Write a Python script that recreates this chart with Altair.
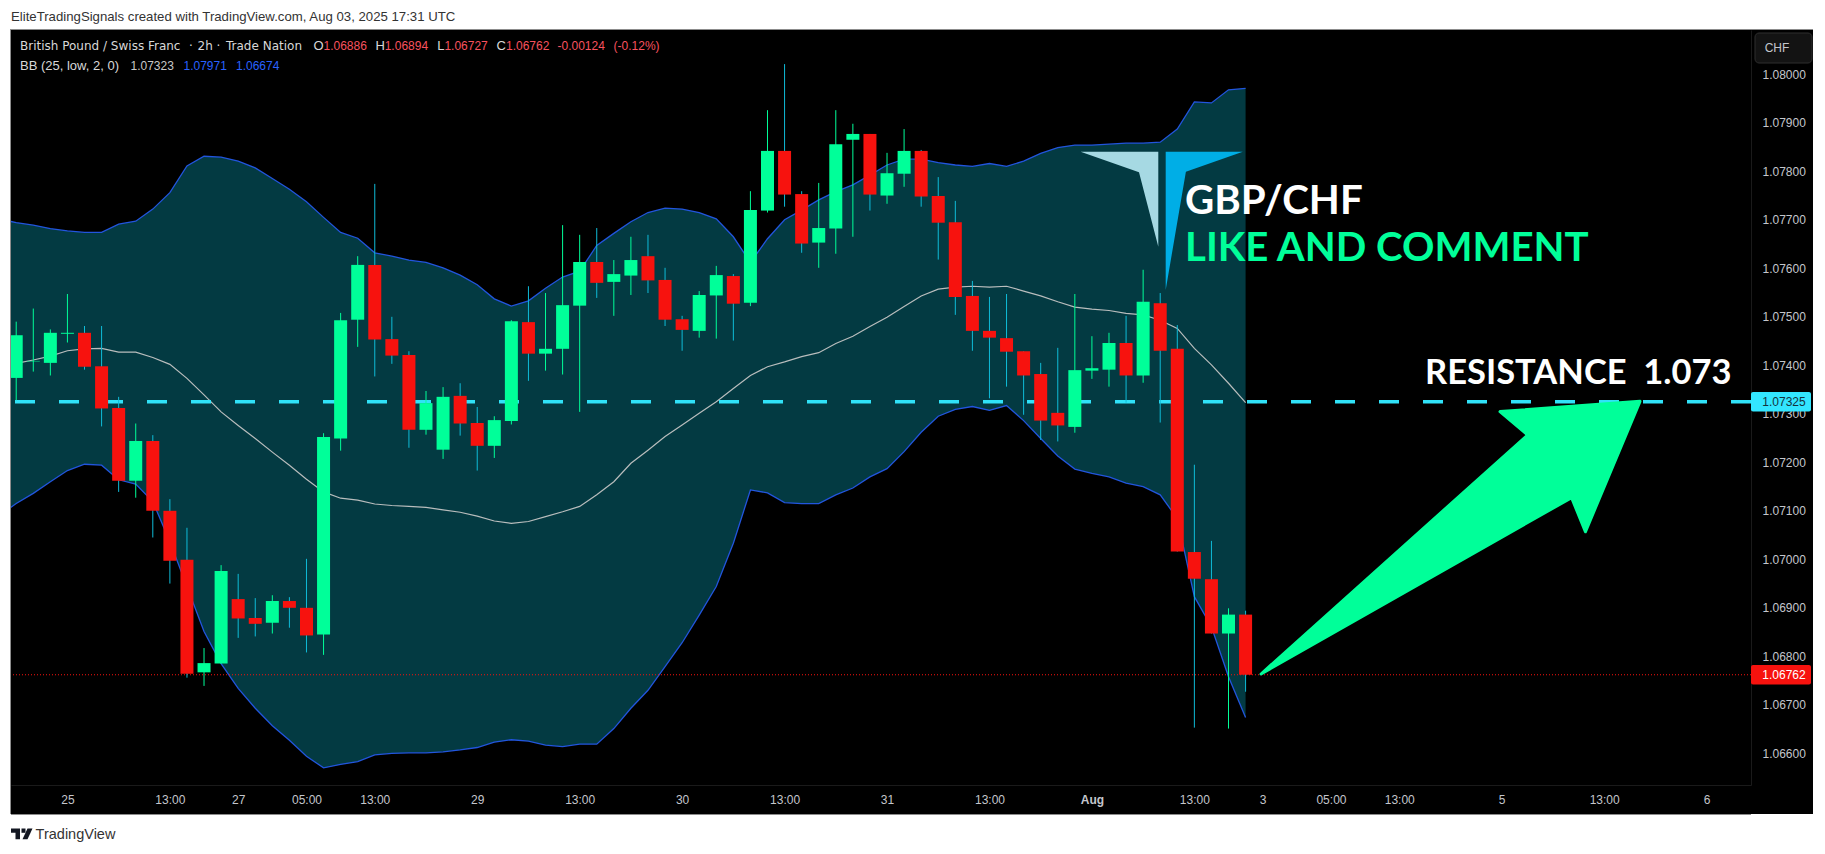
"""GBP/CHF 2h candles with Bollinger Bands, TradingView style."""

import altair as alt
import pandas as pd

OPEN = [
    1.07374, 1.07408, 1.07405, 1.07465, 1.07467, 1.07398, 1.07312, 1.07162, 1.07244, 1.07100,
    1.06999, 1.06767, 1.06785, 1.06918, 1.06879, 1.06869, 1.06914, 1.06900, 1.06845, 1.07249,
    1.07494, 1.07607, 1.07454, 1.07421, 1.07267, 1.07226, 1.07337, 1.07281, 1.07234, 1.07285,
    1.07489, 1.07424, 1.07434, 1.07523, 1.07613, 1.07572, 1.07585, 1.07625, 1.07576, 1.07495,
    1.07471, 1.07544, 1.07584, 1.07529, 1.07719, 1.07842, 1.07753, 1.07653, 1.07682, 1.07865,
    1.07877, 1.07750, 1.07795, 1.07842, 1.07749, 1.07695, 1.07543, 1.07471, 1.07456, 1.07429,
    1.07382, 1.07302, 1.07273, 1.07389, 1.07391, 1.07446, 1.07379, 1.07528, 1.07434, 1.07015,
    1.06959, 1.06847, 1.06886,
]
HIGH = [
    1.07490, 1.07517, 1.07474, 1.07547, 1.07481, 1.07481, 1.07335, 1.07280, 1.07256, 1.07124,
    1.07065, 1.06817, 1.06988, 1.06970, 1.06920, 1.06926, 1.06922, 1.07001, 1.07260, 1.07508,
    1.07625, 1.07774, 1.07500, 1.07429, 1.07347, 1.07355, 1.07363, 1.07314, 1.07295, 1.07493,
    1.07563, 1.07549, 1.07689, 1.07669, 1.07683, 1.07617, 1.07665, 1.07669, 1.07601, 1.07502,
    1.07553, 1.07605, 1.07588, 1.07759, 1.07926, 1.08021, 1.07759, 1.07776, 1.07926, 1.07898,
    1.07877, 1.07838, 1.07887, 1.07844, 1.07788, 1.07739, 1.07574, 1.07541, 1.07547, 1.07429,
    1.07405, 1.07436, 1.07547, 1.07460, 1.07467, 1.07502, 1.07597, 1.07549, 1.07483, 1.07195,
    1.07038, 1.06899, 1.06894,
]
LOW = [
    1.07328, 1.07387, 1.07379, 1.07447, 1.07391, 1.07274, 1.07139, 1.07127, 1.07045, 1.06950,
    1.06756, 1.06739, 1.06785, 1.06838, 1.06841, 1.06847, 1.06859, 1.06808, 1.06803, 1.07224,
    1.07438, 1.07377, 1.07403, 1.07230, 1.07257, 1.07207, 1.07255, 1.07183, 1.07209, 1.07278,
    1.07368, 1.07389, 1.07381, 1.07304, 1.07539, 1.07502, 1.07545, 1.07549, 1.07481, 1.07430,
    1.07457, 1.07455, 1.07451, 1.07522, 1.07715, 1.07727, 1.07632, 1.07601, 1.07630, 1.07665,
    1.07719, 1.07733, 1.07768, 1.07727, 1.07618, 1.07504, 1.07430, 1.07332, 1.07356, 1.07298,
    1.07246, 1.07243, 1.07261, 1.07372, 1.07356, 1.07323, 1.07364, 1.07282, 1.07016, 1.06653,
    1.06847, 1.06651, 1.06727,
]
CLOSE = [
    1.07462, 1.07409, 1.07467, 1.07467, 1.07397, 1.07311, 1.07162, 1.07244, 1.07100, 1.06997,
    1.06764, 1.06786, 1.06976, 1.06878, 1.06867, 1.06914, 1.06900, 1.06843, 1.07252, 1.07493,
    1.07607, 1.07453, 1.07420, 1.07267, 1.07322, 1.07335, 1.07280, 1.07234, 1.07287, 1.07491,
    1.07424, 1.07434, 1.07524, 1.07613, 1.07570, 1.07588, 1.07617, 1.07575, 1.07494, 1.07473,
    1.07545, 1.07586, 1.07527, 1.07720, 1.07842, 1.07752, 1.07651, 1.07683, 1.07856, 1.07877,
    1.07752, 1.07796, 1.07842, 1.07748, 1.07694, 1.07541, 1.07471, 1.07457, 1.07428, 1.07379,
    1.07286, 1.07276, 1.07390, 1.07394, 1.07446, 1.07379, 1.07531, 1.07430, 1.07016, 1.06960,
    1.06847, 1.06886, 1.06762,
]
# band values start one bar earlier than the candles, that bar is off the left edge
BB_INDEX_START = -1
BB_UPPER = [
    1.07702, 1.07694, 1.07689, 1.07682, 1.07677, 1.07674, 1.07674, 1.07691, 1.07697, 1.07722, 1.07756,
    1.07811, 1.07831, 1.07829, 1.07821, 1.07807, 1.07785, 1.07763, 1.07737, 1.07705, 1.07674,
    1.07662, 1.07632, 1.07625, 1.07617, 1.07612, 1.07601, 1.07586, 1.07566, 1.07537, 1.07522,
    1.07533, 1.07559, 1.07582, 1.07594, 1.07647, 1.07672, 1.07696, 1.07715, 1.07724, 1.07722,
    1.07715, 1.07702, 1.07665, 1.07612, 1.07661, 1.07700, 1.07720, 1.07741, 1.07758, 1.07772,
    1.07792, 1.07813, 1.07825, 1.07825, 1.07818, 1.07813, 1.07810, 1.07816, 1.07810, 1.07821,
    1.07837, 1.07849, 1.07854, 1.07854, 1.07856, 1.07858, 1.07858, 1.07860, 1.07887, 1.07943,
    1.07941, 1.07968, 1.07971,
]
BB_LOWER = [
    1.07090, 1.07115, 1.07136, 1.07160, 1.07183, 1.07196, 1.07194, 1.07164, 1.07155, 1.07119, 1.07036,
    1.06944, 1.06851, 1.06785, 1.06734, 1.06693, 1.06657, 1.06627, 1.06594, 1.06570, 1.06577,
    1.06583, 1.06597, 1.06600, 1.06601, 1.06601, 1.06603, 1.06607, 1.06612, 1.06623, 1.06628,
    1.06625, 1.06617, 1.06614, 1.06619, 1.06619, 1.06651, 1.06693, 1.06730, 1.06779, 1.06828,
    1.06885, 1.06944, 1.07033, 1.07143, 1.07137, 1.07117, 1.07115, 1.07115, 1.07133, 1.07147,
    1.07170, 1.07187, 1.07222, 1.07262, 1.07295, 1.07309, 1.07315, 1.07307, 1.07317, 1.07286,
    1.07249, 1.07213, 1.07186, 1.07177, 1.07170, 1.07157, 1.07150, 1.07133, 1.07084, 1.06923,
    1.06861, 1.06758, 1.06674,
]
BB_BASIS = [
    1.07397, 1.07404, 1.07411, 1.07419, 1.07430, 1.07434, 1.07435, 1.07427, 1.07427, 1.07416, 1.07402,
    1.07373, 1.07339, 1.07304, 1.07276, 1.07249, 1.07221, 1.07194, 1.07165, 1.07139, 1.07126,
    1.07122, 1.07114, 1.07111, 1.07109, 1.07107, 1.07102, 1.07097, 1.07089, 1.07079, 1.07074,
    1.07078, 1.07088, 1.07098, 1.07109, 1.07133, 1.07160, 1.07198, 1.07225, 1.07253, 1.07277,
    1.07301, 1.07325, 1.07352, 1.07379, 1.07397, 1.07407, 1.07418, 1.07426, 1.07445, 1.07460,
    1.07480, 1.07499, 1.07521, 1.07543, 1.07557, 1.07561, 1.07563, 1.07561, 1.07563, 1.07553,
    1.07543, 1.07531, 1.07520, 1.07516, 1.07513, 1.07507, 1.07504, 1.07493, 1.07476, 1.07435,
    1.07401, 1.07363, 1.07323,
]
TIME_TICKS = [3, 9, 13, 17, 21, 27, 33, 39, 45, 51, 57, 63, 69, 73, 77, 81, 87, 93, 99]
TIME_LABELS = ["25", "13:00", "27", "05:00", "13:00", "29", "13:00", "30", "13:00", "31",
               "13:00", "Aug", "13:00", "3", "05:00", "13:00", "5", "13:00", "6"]
PRICE_TICKS = [1.066, 1.067, 1.068, 1.069, 1.070, 1.071, 1.072, 1.073,
               1.074, 1.075, 1.076, 1.077, 1.078, 1.079, 1.080]
RESISTANCE = 1.07325
LAST_PRICE = 1.06762

# page layout, in pixels of the screenshot
OX, OY = 11, 30
PLOT_W, PLOT_H = 1740, 755
PANE_RIGHT, PANE_BOTTOM = 1813, 814
TAG_HALF = 0.0002

GREEN = "#00ff99"
RED = "#f7120e"
CYAN_WICK = "#0fbcd8"
TEAL = "#033a42"
BLUE = "#2255dd"
DASH = "#30e2f8"
SOFT_RED = "#f7525f"
AXIS_TEXT = "#c4c6cc"
FONT = "Liberation Sans"
WIDE_FONT = "DejaVu Sans"
BIG_FONT = "Lato"

candles = pd.DataFrame({
    "i": range(len(OPEN)), "open": OPEN, "high": HIGH, "low": LOW, "close": CLOSE,
})
candles["up"] = candles["close"] >= candles["open"]
candles["body_color"] = candles["up"].map({True: GREEN, False: RED})
candles["wick_color"] = candles["up"].map({True: GREEN, False: CYAN_WICK})
bands = pd.DataFrame({
    "i": range(BB_INDEX_START, BB_INDEX_START + len(BB_UPPER)),
    "upper": BB_UPPER, "lower": BB_LOWER, "basis": BB_BASIS,
})

x_scale = alt.Scale(domain=[-0.305, 101.6], nice=False, zero=False, padding=0)
y_scale = alt.Scale(domain=[1.065347, 1.080913], nice=False, zero=False, padding=0)
label_map = ", ".join(f"'{t}': '{s}'" for t, s in zip(TIME_TICKS, TIME_LABELS))
x_axis = alt.Axis(
    title=None, values=TIME_TICKS, grid=False, ticks=False, labelPadding=9,
    labelExpr="{" + label_map + "}[datum.value]", labelOverlap=False, labelFlush=False,
    labelFontWeight=alt.expr("datum.value == 63 ? 'bold' : 'normal'"),
    labelColor=AXIS_TEXT, labelFont=FONT, labelFontSize=12, domainColor="#1a1a1a",
)
y_axis = alt.Axis(
    title=None, orient="right", values=PRICE_TICKS, format=".5f", grid=False, ticks=False,
    labelPadding=11, labelOverlap=False, labelFlush=False,
    labelColor=AXIS_TEXT, labelFont=FONT, labelFontSize=12, domainColor="#1a1a1a",
)


def x_enc():
    return alt.X("i:Q", scale=x_scale, axis=x_axis)


def y_enc(field):
    return alt.Y(f"{field}:Q", scale=y_scale, axis=y_axis)


BLANK = alt.Data(values=[{"k": 1}])


def box(x0, y0, x1, y1, color, **mark):
    return alt.Chart(BLANK).mark_rect(color=color, **mark).encode(
        x=alt.value(x0 - OX), x2=alt.value(x1 - OX),
        y=alt.value(y0 - OY), y2=alt.value(y1 - OY),
    )


def label(text, x, y, color, size=12, font=FONT, **mark):
    return alt.Chart(BLANK).mark_text(
        align=mark.pop("align", "left"), baseline="middle",
        color=color, fontSize=size, font=font, **mark,
    ).encode(x=alt.value(x - OX), y=alt.value(y - OY), text=alt.value(text))


def shape(points, color, **mark):
    """Filled polygon drawn as a custom symbol; size=4 makes one path unit one pixel."""
    path = "M" + " L".join(f"{x - OX} {y - OY}" for x, y in points) + " Z"
    return alt.Chart(BLANK).mark_point(
        shape=path, size=4, filled=True, opacity=1, color=color, **mark
    ).encode(x=alt.value(0), y=alt.value(0))


page = [
    box(8, 8, 1817, OY, "#ffffff"),
    box(8, 8, OX, 846, "#ffffff"),
    box(PANE_RIGHT, 8, 1817, 846, "#ffffff"),
    box(8, PANE_BOTTOM, 1817, 846, "#ffffff"),
    box(OX, OY - 1, PANE_RIGHT, OY, "#8c8c8c"),
    box(OX - 1, OY - 1, OX, PANE_BOTTOM, "#8c8c8c"),
    box(OX, PANE_BOTTOM, 1751, PANE_BOTTOM + 1, "#8c8c8c"),
    box(1755, 33, 1812, 63, "#131313", stroke="#2e2e2e", cornerRadius=4),
]

band_base = alt.Chart(bands)
band = band_base.mark_area(color=TEAL, opacity=1, clip=True).encode(
    x=x_enc(), y=y_enc("upper"), y2=alt.Y2("lower")
)
upper = band_base.mark_line(color=BLUE, strokeWidth=1.3, clip=True).encode(x=x_enc(), y=y_enc("upper"))
lower = band_base.mark_line(color=BLUE, strokeWidth=1.3, clip=True).encode(x=x_enc(), y=y_enc("lower"))
basis = band_base.mark_line(color="#b9bdbd", strokeWidth=1.2, clip=True).encode(x=x_enc(), y=y_enc("basis"))

last_rule = alt.Chart(pd.DataFrame({"price": [LAST_PRICE]})).mark_rule(
    color=RED, strokeDash=[1, 2], strokeWidth=1
).encode(y=y_enc("price"))
res_rule = alt.Chart(pd.DataFrame({"price": [RESISTANCE]})).mark_rule(
    color=DASH, strokeDash=[20, 24], strokeWidth=3.5
).encode(y=y_enc("price"))

base = alt.Chart(candles)
wicks = base.mark_rule(strokeWidth=1, clip=True).encode(
    x=x_enc(), y=y_enc("high"), y2=alt.Y2("low"),
    color=alt.Color("wick_color:N", scale=None),
)
bodies = base.mark_bar(size=13, orient="vertical", clip=True, opacity=1).encode(
    x=x_enc(), y=y_enc("open"), y2=alt.Y2("close"),
    color=alt.Color("body_color:N", scale=None),
)

tags = pd.DataFrame({
    "price": [RESISTANCE, LAST_PRICE],
    "lo": [RESISTANCE - TAG_HALF, LAST_PRICE - TAG_HALF],
    "hi": [RESISTANCE + TAG_HALF, LAST_PRICE + TAG_HALF],
    "fill": ["#33e6ff", RED],
    "ink": ["#14333c", "#ffffff"],
    "txt": [f"{RESISTANCE:.5f}", f"{LAST_PRICE:.5f}"],
})
tag_boxes = alt.Chart(tags).mark_rect(cornerRadius=2).encode(
    x=alt.value(1751 - OX), x2=alt.value(1811 - OX),
    y=y_enc("hi"), y2=alt.Y2("lo"), color=alt.Color("fill:N", scale=None),
)
tag_text = alt.Chart(tags).mark_text(font=FONT, fontSize=12, align="center", baseline="middle").encode(
    x=alt.value(1784 - OX), y=y_enc("price"), text="txt:N", color=alt.Color("ink:N", scale=None),
)

logo_light = [(1080.6, 151.7), (1158.3, 151.7), (1158.3, 246.7), (1139, 172.3)]
logo_blue = [(1165.7, 151.7), (1242.8, 151.7), (1185.9, 171.7), (1165.7, 290)]
arrow = [(1261, 674), (1527.6, 435), (1500, 411.6), (1640, 401.3),
         (1585.4, 531.8), (1571.6, 497.6)]
tv_t = [(11, 828.5), (20, 828.5), (20, 839.3), (15.5, 839.3), (15.5, 832.8), (11, 832.8)]
tv_dot = [(21.5, 828.5), (25.5, 828.5), (25.5, 832.8), (21.5, 832.8)]
tv_slash = [(27.5, 828.5), (32.5, 828.5), (27.5, 839.3), (22.5, 839.3)]

annotations = [
    shape(logo_light, "#a6d9e3"),
    shape(logo_blue, "#00aee6"),
    shape(arrow, GREEN, stroke=GREEN, strokeWidth=3, strokeJoin="round"),
    shape(tv_t, "#131722"),
    shape(tv_dot, "#131722"),
    shape(tv_slash, "#131722"),
    label("GBP/CHF", 1185, 202, "#ffffff", size=40.3, font=BIG_FONT, fontWeight="bold"),
    label("LIKE AND COMMENT", 1185, 249, GREEN, size=40.2, font=BIG_FONT, fontWeight="bold"),
    label("RESISTANCE\u00a0\u00a01.073", 1425, 374, "#ffffff", size=34.5, font=BIG_FONT, fontWeight="bold"),
    label("EliteTradingSignals created with TradingView.com, Aug 03, 2025 17:31 UTC", 11, 17, "#333333", size=13.2),
    label("TradingView", 35.6, 835, "#333333", size=14.5),
    label("CHF", 1777, 48, AXIS_TEXT, align="center"),
    label("British Pound / Swiss Franc", 20, 46, "#d8d8d8", font=WIDE_FONT, size=12),
    label("·", 189, 46, "#d8d8d8", font=WIDE_FONT, size=12),
    label("2h", 197.5, 46, "#d8d8d8", font=WIDE_FONT, size=12),
    label("·", 216.5, 46, "#d8d8d8", font=WIDE_FONT, size=12),
    label("Trade Nation", 226, 46, "#d8d8d8", font=WIDE_FONT, size=12),
    label("O", 313.6, 46, "#d8d8d8", size=13),
    label("1.06886", 323.5, 46, SOFT_RED),
    label("H", 375.6, 46, "#d8d8d8", size=13),
    label("1.06894", 384.7, 46, SOFT_RED),
    label("L", 437.3, 46, "#d8d8d8", size=13),
    label("1.06727", 444.4, 46, SOFT_RED),
    label("C", 496.6, 46, "#d8d8d8", size=13),
    label("1.06762", 506, 46, SOFT_RED),
    label("-0.00124", 557.5, 46, SOFT_RED),
    label("(-0.12%)", 613.6, 46, SOFT_RED),
    label("BB (25, low, 2, 0)", 20, 65.5, "#d8d8d8", size=13),
    label("1.07323", 130.5, 65.5, "#c8c8c8"),
    label("1.07971", 183.5, 65.5, "#2962ff"),
    label("1.06674", 236, 65.5, "#2962ff"),
]

chart = alt.layer(
    *page, band, upper, lower, basis, last_rule, res_rule, wicks, bodies,
    tag_boxes, tag_text, *annotations,
).properties(
    width=PLOT_W, height=PLOT_H, background="#000000",
    padding={"left": 3, "top": 22, "right": 66, "bottom": 58},
    autosize=alt.AutoSizeParams(type="none"),
).configure_view(strokeWidth=0)

chart.save("out.html", embed_options={"renderer": "svg", "actions": False})
